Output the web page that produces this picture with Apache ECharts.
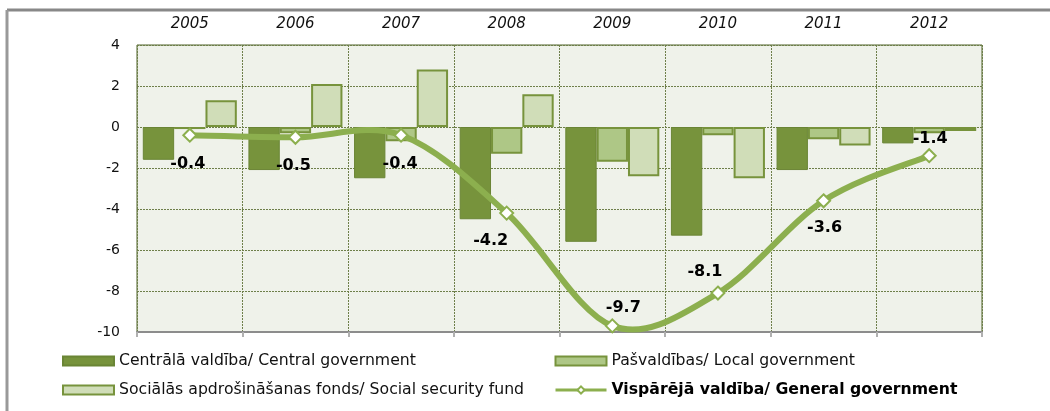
<!DOCTYPE html>
<html>
<head>
<meta charset="utf-8">
<script src="https://cdn.jsdelivr.net/npm/echarts@6/dist/echarts.min.js"></script>
<style>
  html, body { margin: 0; padding: 0; background: #fff; }
  #chart { width: 1050px; height: 411px; }
</style>
</head>
<body>
<div id="chart"></div>
<script>
// data
const years = ['2005', '2006', '2007', '2008', '2009', '2010', '2011', '2012'];
const central = [-1.6, -2.1, -2.5, -4.5, -5.6, -5.3, -2.1, -0.8];
const local = [-0.1, -0.3, -0.7, -1.3, -1.7, -0.4, -0.6, -0.3];
const social = [1.3, 2.1, 2.8, 1.6, -2.4, -2.5, -0.9, -0.2];
const general = [-0.4, -0.5, -0.4, -4.2, -9.7, -8.1, -3.6, -1.4];
// label offsets for the general government line (px from point)
const labelOffsets = [[-2, 29], [-2, 29], [-1, 29], [-16, 28], [11, -18], [-13, -21], [1, 27], [1, -17]];

const names = {
  central: 'Centrālā valdība/ Central government',
  local: 'Pašvaldības/ Local government',
  social: 'Sociālās apdrošināšanas fonds/ Social security fund',
  general: 'Vispārējā valdība/ General government'
};

const font = 'DejaVu Sans, Verdana, sans-serif';
const lineColor = '#8CAF4E';
const chart = echarts.init(document.getElementById('chart'));

// smooth curve like the spreadsheet one (catmull-rom through the points)
function renderCurve (params, api) {
  if (params.dataIndex !== 0) return null;
  const pts = general.map((v, i) => api.coord([i, v]));
  const children = [];
  for (let i = 0; i < pts.length - 1; i++) {
    const p0 = pts[Math.max(i - 1, 0)];
    const p1 = pts[i];
    const p2 = pts[i + 1];
    const p3 = pts[Math.min(i + 2, pts.length - 1)];
    children.push({
      type: 'bezierCurve',
      shape: {
        x1: p1[0], y1: p1[1], x2: p2[0], y2: p2[1],
        cpx1: p1[0] + (p2[0] - p0[0]) / 6, cpy1: p1[1] + (p2[1] - p0[1]) / 6,
        cpx2: p2[0] - (p3[0] - p1[0]) / 6, cpy2: p2[1] - (p3[1] - p1[1]) / 6
      },
      style: { stroke: lineColor, lineWidth: 6, fill: null, lineCap: 'round' }
    });
  }
  return { type: 'group', children };
}

const legendText = { fontFamily: font, fontSize: 15.7, color: '#111' };

const option = {
  animation: false,
  textStyle: { fontFamily: font },
  graphic: [
    { type: 'line', shape: { x1: 7, y1: 10, x2: 1050, y2: 10 }, style: { stroke: '#888', lineWidth: 3 } },
    { type: 'line', shape: { x1: 7, y1: 10, x2: 7, y2: 411 }, style: { stroke: '#999', lineWidth: 3 } }
  ],
  grid: {
    left: 137, right: 68, top: 45, bottom: 79,
    show: true, backgroundColor: '#EFF2EA', borderColor: '#4F6228', borderWidth: 1
  },
  legend: [
    {
      left: 62, top: 353, orient: 'vertical', itemGap: 13, padding: 0,
      itemWidth: 51, itemHeight: 9, icon: 'rect',
      textStyle: legendText,
      data: [names.central, names.social]
    },
    {
      left: 554, top: 353, orient: 'vertical', itemGap: 13, padding: 0,
      itemWidth: 51, itemHeight: 9,
      textStyle: legendText,
      data: [
        { name: names.local, icon: 'rect' },
        {
          name: names.general,
          textStyle: { fontWeight: 'bold', color: '#000' },
          lineStyle: { width: 3, color: lineColor, opacity: 1 }
        }
      ]
    }
  ],
  xAxis: [
    {
      type: 'category', data: years, position: 'top',
      axisLine: { show: false }, axisTick: { show: false },
      axisLabel: { fontStyle: 'italic', fontSize: 15, color: '#111', margin: 13, fontFamily: font },
      splitLine: { show: true, lineStyle: { type: [2, 1], color: '#6E7F4A', width: 1 } }
    },
    {
      type: 'category', data: years, position: 'bottom',
      axisLine: { onZero: true, lineStyle: { color: '#8C8C8C', width: 2 } },
      axisTick: { show: true, inside: false, length: 5, lineStyle: { color: '#B0B0B0', width: 2 } },
      axisLabel: { show: false }, splitLine: { show: false }
    }
  ],
  yAxis: {
    type: 'value', min: -10, max: 4, interval: 2,
    axisLine: { show: false }, axisTick: { show: false },
    axisLabel: { fontSize: 14, color: '#111', margin: 17, fontFamily: font },
    splitLine: { lineStyle: { type: [2, 1], color: '#6E7F4A', width: 1 } }
  },
  series: [
    {
      name: names.central, type: 'bar', data: central, barGap: '0%', barCategoryGap: '11%',
      itemStyle: { color: '#77933C', borderColor: '#6A8535', borderWidth: 1 }
    },
    {
      name: names.local, type: 'bar', data: local, barGap: '0%', barCategoryGap: '11%',
      itemStyle: { color: '#AEC786', borderColor: '#77933C', borderWidth: 2 }
    },
    {
      name: names.social, type: 'bar', data: social, barGap: '0%', barCategoryGap: '11%',
      itemStyle: { color: '#D0DDB8', borderColor: '#77933C', borderWidth: 2 }
    },
    {
      type: 'custom', z: 4, silent: true,
      data: general.map((v, i) => [i, v]),
      renderItem: renderCurve
    },
    {
      name: names.general, type: 'line', z: 5,
      data: general.map((v, i) => ({
        value: v,
        label: { offset: labelOffsets[i] }
      })),
      lineStyle: { color: lineColor, width: 0, opacity: 0 },
      itemStyle: { color: '#fff', borderColor: lineColor, borderWidth: 2 },
      symbol: 'diamond', symbolSize: 13,
      label: {
        show: true, position: 'inside', fontSize: 16, fontWeight: 'bold',
        color: '#000', fontFamily: font
      }
    }
  ]
};

chart.setOption(option);
</script>
</body>
</html>
